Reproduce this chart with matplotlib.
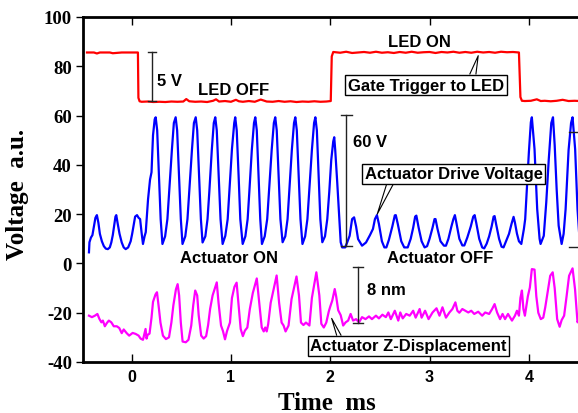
import matplotlib
matplotlib.use("Agg")
import matplotlib.pyplot as plt

plt.rcParams["axes.unicode_minus"] = False

# ---------------- data ----------------
x_ticks = [0, 1, 2, 3, 4]
y_ticks = [-40, -20, 0, 20, 40, 60, 80, 100]

# Gate trigger to LED (red)
red_t = [-0.45, -0.38, -0.35, -0.32, -0.22, -0.19, -0.10, 0.00, 0.063, 0.068, 0.08, 0.10,
         0.16, 0.22, 0.28, 0.34, 0.40, 0.46, 0.52, 0.55, 0.58, 0.64, 0.70, 0.76, 0.82,
         0.85, 0.88, 0.94, 1.00, 1.05, 1.08, 1.12, 1.18, 1.24, 1.30, 1.36, 1.42, 1.48,
         1.54, 1.60, 1.66, 1.72, 1.78, 1.84, 1.90, 1.96, 2.005, 2.015, 2.03, 2.10, 2.16,
         2.22, 2.28, 2.34, 2.40, 2.46, 2.52, 2.58, 2.64, 2.70, 2.76, 2.82, 2.88, 2.94,
         3.00, 3.06, 3.12, 3.18, 3.24, 3.30, 3.36, 3.42, 3.48, 3.54, 3.60, 3.66, 3.72,
         3.78, 3.84, 3.90, 3.915, 3.93, 3.96, 4.02, 4.08, 4.12, 4.16, 4.22, 4.28, 4.34,
         4.40, 4.46, 4.52]
red_v = [85.6, 85.6, 85.2, 85.6, 85.6, 85.3, 85.6, 85.6, 85.6, 67.2, 65.8, 65.6,
         65.7, 65.5, 65.6, 65.5, 65.7, 65.6, 65.7, 66.7, 65.8, 65.6, 65.7, 65.5, 66.0,
         66.6, 65.7, 65.9, 65.6, 66.4, 65.8, 65.6, 65.9, 65.6, 66.5, 65.7, 65.6, 65.9,
         65.6, 65.8, 65.5, 65.7, 65.6, 65.8, 65.6, 65.7, 65.9, 84.0, 85.8, 85.5, 85.9,
         85.4, 85.6, 85.8, 85.5, 85.9, 85.5, 85.7, 85.4, 85.8, 85.5, 85.9, 85.5, 85.7,
         85.8, 85.4, 85.8, 85.6, 85.9, 85.5, 85.8, 85.5, 85.9, 85.6, 85.8, 85.5, 85.9,
         85.7, 85.8, 85.6, 67.5, 66.0, 65.9, 66.0, 66.6, 65.9, 66.0, 65.8, 66.0, 66.4,
         65.9, 66.0, 65.9]

# Actuator drive voltage (blue)
blue_t = [-0.43, -0.425, -0.41, -0.395, -0.38, -0.365, -0.35, -0.335, -0.32, -0.30, -0.28,
          -0.26, -0.24, -0.22, -0.205, -0.19, -0.175, -0.163, -0.155, -0.14, -0.122, -0.10,
          -0.08, -0.06, -0.035, -0.01, 0.005, 0.02, 0.035, 0.054, 0.07, 0.085, 0.10, 0.114,
          0.13, 0.142, 0.165, 0.185, 0.20, 0.215, 0.232, 0.242,
          0.257, 0.275, 0.292, 0.31, 0.337, 0.36, 0.378, 0.405, 0.425, 0.443,
          0.458, 0.478, 0.495, 0.512, 0.54, 0.562, 0.58, 0.607, 0.627, 0.645,
          0.66, 0.68, 0.697, 0.714, 0.742, 0.764, 0.782, 0.807, 0.827, 0.842,
          0.857, 0.877, 0.895, 0.916, 0.943, 0.967, 0.983, 1.01, 1.033, 1.043,
          1.058, 1.077, 1.094, 1.118, 1.145, 1.168, 1.185, 1.21, 1.232, 1.245,
          1.26, 1.279, 1.295, 1.312, 1.34, 1.365, 1.383, 1.41, 1.432, 1.446,
          1.461, 1.48, 1.498, 1.52, 1.547, 1.57, 1.587, 1.613, 1.635, 1.648,
          1.663, 1.682, 1.70, 1.72, 1.747, 1.77, 1.788, 1.815, 1.837, 1.85,
          1.865, 1.884, 1.90, 1.92, 1.947, 1.97, 1.99, 2.01, 2.03, 2.04,
          2.05, 2.07, 2.09, 2.105, 2.12, 2.15, 2.17, 2.195, 2.22, 2.24, 2.26, 2.28, 2.32,
          2.36, 2.40, 2.43, 2.45, 2.47, 2.49, 2.52, 2.545, 2.565, 2.59, 2.625, 2.65, 2.66,
          2.68, 2.715, 2.745, 2.78, 2.81, 2.835, 2.855, 2.867, 2.89, 2.92, 2.95, 2.975,
          3.00, 3.03, 3.05, 3.06, 3.08, 3.11, 3.145, 3.165, 3.19, 3.22, 3.24, 3.255, 3.27,
          3.30, 3.33, 3.35, 3.38, 3.415, 3.44, 3.454, 3.47, 3.50, 3.53, 3.55, 3.575, 3.60,
          3.625, 3.645, 3.655, 3.67, 3.70, 3.725, 3.745, 3.77, 3.80, 3.825, 3.846, 3.86,
          3.88, 3.90, 3.924, 3.95, 3.963, 3.98, 4.00, 4.02, 4.03, 4.057, 4.084, 4.108,
          4.118, 4.15, 4.175, 4.20, 4.226, 4.243, 4.26, 4.28, 4.30, 4.33, 4.35, 4.37,
          4.40, 4.425, 4.44, 4.466, 4.49, 4.51]
blue_v = [4.5, 8.6, 10.5, 11.5, 15.0, 18.5, 19.6, 16.5, 12.0, 9.0, 7.0,
          6.0, 5.8, 6.5, 8.5, 11.5, 15.5, 19.0, 19.6, 16.0, 12.0, 8.5,
          6.5, 5.8, 6.5, 9.0, 12.0, 15.5, 19.0, 19.6, 18.5, 18.0, 12.5, 7.9,
          11.0, 12.7, 26.0, 34.0, 37.0, 52.0, 58.5, 59.3,
          54, 35, 18, 7.9, 11, 18, 29, 46, 57, 59.3,
          54, 35, 18, 7.9, 11, 18, 29, 46, 57, 59.3,
          54, 35, 18, 8.5, 11, 18, 29, 46, 57, 59.3,
          54, 35, 18, 7.9, 11.2, 18, 28.8, 46.4, 57, 59.3,
          54, 35.6, 18, 7.9, 11, 18, 29, 46, 57, 59.3,
          54, 35, 18, 7.9, 11, 18, 29, 46, 57, 59.3,
          54, 35, 18, 8.6, 11, 18, 29, 46, 57, 59.3,
          54, 35, 18, 7.9, 11, 18, 29, 46, 57, 59.3,
          54, 35, 18, 8.6, 11, 18, 29, 42, 49.5, 51.2,
          46, 33, 19, 8.6, 6.5, 6.5, 8.5, 11.2, 18, 18.7, 15, 9.9, 7.2,
          8.5, 11.5, 14, 18, 19.6, 16, 9, 6.5, 6.5, 9.5, 15, 19.5, 19.6,
          16, 9, 6.5, 6.5, 10, 14.5, 19, 19.4, 14.5, 9, 6.5, 7,
          10, 14.5, 18, 18, 14, 9, 7.2, 7.2, 10, 15, 18, 19.6, 16.5,
          10, 7.3, 7.3, 10.5, 15, 19, 19.6, 16.5, 10, 6.5, 6.1, 8, 11,
          15, 19, 19.2, 16, 10, 6.8, 6.5, 9, 12, 16, 18.9, 16.5,
          12.1, 9, 7.9, 14, 18, 30.2, 45, 57.3, 59.3, 46.4, 22, 10,
          7.9, 11.2, 24.7, 42, 57, 59.3, 48, 30, 15.3, 7.9, 12, 22,
          46, 57, 59.3, 46.4, 22, 10]

# Actuator Z-displacement (magenta)
mag_t = [-0.43, -0.40, -0.37, -0.345, -0.325, -0.305, -0.29, -0.27, -0.25, -0.23, -0.205,
         -0.18, -0.15, -0.125, -0.10, -0.08, -0.05, -0.025, 0.01, 0.04, 0.07, 0.09, 0.114,
         0.13, 0.14, 0.15, 0.16, 0.18, 0.20, 0.215, 0.24, 0.255, 0.275, 0.29, 0.315, 0.345,
         0.376, 0.40, 0.42, 0.446, 0.463, 0.478, 0.495, 0.513, 0.545, 0.572, 0.60, 0.62,
         0.64, 0.66, 0.675, 0.70, 0.725, 0.75, 0.77, 0.79, 0.815, 0.857, 0.875, 0.90, 0.92,
         0.94, 0.96, 0.99, 1.01, 1.035, 1.057, 1.08, 1.098, 1.12, 1.14, 1.165, 1.19, 1.22,
         1.26, 1.285, 1.31, 1.33, 1.345, 1.36, 1.375, 1.40, 1.46, 1.485, 1.51, 1.53, 1.55,
         1.58, 1.61, 1.66, 1.685, 1.705, 1.73, 1.755, 1.79, 1.815, 1.86, 1.89, 1.91, 1.935,
         1.96, 1.985, 2.00, 2.02, 2.045, 2.06, 2.08, 2.105, 2.13, 2.155, 2.18, 2.205, 2.23,
         2.26, 2.29, 2.32, 2.355, 2.39, 2.42, 2.46, 2.49, 2.525, 2.56, 2.585, 2.61, 2.65,
         2.685, 2.705, 2.73, 2.765, 2.80, 2.835, 2.86, 2.90, 2.92, 2.955, 2.99, 3.03, 3.07,
         3.10, 3.13, 3.165, 3.20, 3.23, 3.26, 3.28, 3.30, 3.33, 3.36, 3.39, 3.42, 3.45,
         3.49, 3.53, 3.56, 3.60, 3.63, 3.655, 3.68, 3.71, 3.735, 3.76, 3.79, 3.83, 3.86,
         3.88, 3.90, 3.915, 3.93, 3.945, 3.96, 3.99, 4.01, 4.03, 4.057, 4.075, 4.095, 4.12,
         4.145, 4.165, 4.19, 4.215, 4.24, 4.26, 4.285, 4.31, 4.33, 4.355, 4.38, 4.405,
         4.44, 4.465, 4.49, 4.51]
mag_v = [-21.2, -21.8, -21.2, -20.5, -22.5, -23.9, -23.2, -25.5, -24.2, -23.2, -23.9,
         -25.5, -25.5, -26.2, -28.3, -26.8, -28.3, -29.3, -28.2, -28.6, -29.3, -30.5, -31.0,
         -28.2, -26.6, -30.5, -29.0, -28.5, -22.0, -15.6, -12.6, -11.7, -18.5, -24.0, -29.3, -30.7,
         -30.0, -24.0, -17.0, -10.5, -8.4, -13.0, -24.0, -31.7, -32.0, -31.0, -25.2, -17.0,
         -11.0, -13.0, -21.0, -29.3, -30.5, -29.5, -25.0, -18.5, -13.0, -7.7, -16.0, -25.2, -27.5,
         -30.8, -27.5, -24.0, -14.0, -9.5, -7.8, -18.5, -26.6, -29.5, -27.3, -26.0, -18.5, -12.0,
         -6.1, -16.0, -26.0, -27.6, -26.0, -27.6, -24.6, -16.0, -4.9, -16.0, -24.0, -25.2, -27.6,
         -25.2, -14.5, -5.3, -13.0, -24.0, -25.0, -24.0, -25.2, -14.0, -3.6, -13.0, -24.5, -26.0,
         -24.0, -19.5, -17.5, -15.1, -10.4, -13.5, -19.0, -21.0, -25.2, -23.9, -23.2, -20.5, -23.2,
         -22.6, -23.9, -21.8, -22.6, -21.5, -22.6, -21.2, -22.3, -20.8, -21.8, -19.9, -22.6, -19.2,
         -23.2, -19.9, -22.3, -20.5, -21.2, -19.2, -22.0, -18.5, -22.0, -19.2, -22.6, -19.9, -18.2,
         -21.2, -17.8, -22.0, -19.9, -18.5, -15.8, -19.2, -20.0, -18.5, -19.2, -19.9, -19.2, -20.5,
         -19.6, -21.2, -19.9, -20.5, -18.5, -16.5, -19.9, -22.6, -20.5, -22.6, -20.5, -23.2, -21.2,
         -19.2, -21.2, -14.0, -11.0, -18.5, -21.2, -13.3, -9.8, -2.3, -2.5, -13.3, -20.0, -22.6,
         -22.0, -17.8, -11.5, -5.0, -3.6, -10.0, -22.6, -25.7, -23.0, -21.2, -13.3, -5.0,
         -2.0, -10.5, -23.9, -22.0]

# ---------------- figure ----------------
W, H = 578, 414
fig = plt.figure(figsize=(W / 100, H / 100), dpi=100)
ax = fig.add_axes([83 / W, 51 / H, (580.5 - 83) / W, 345 / H])
ax.set_xlim(-0.49, 4.52)
ax.set_ylim(-40, 100)

ax.plot(red_t, red_v, color="#ff0000", lw=1.6, zorder=3)
ax.plot(blue_t, blue_v, color="#0000ff", lw=1.6, zorder=3)
ax.plot(mag_t, mag_v, color="#ff00ff", lw=1.6, zorder=3)

for s in ["left", "bottom", "top"]:
    ax.spines[s].set_linewidth(2.0)
ax.spines["right"].set_visible(False)

ax.set_xticks(x_ticks)
ax.set_yticks(y_ticks)
ax.tick_params(axis="x", direction="in", top=True, bottom=True, length=6, width=1.0,
               pad=5)
ax.tick_params(axis="y", direction="out", left=True, right=False, length=5, width=1.0,
               pad=3)
for lab in ax.get_yticklabels():
    lab.set_fontfamily("Liberation Serif")
    lab.set_fontweight("bold")
    lab.set_fontsize(13.5)
for lab in ax.get_xticklabels():
    lab.set_fontfamily("Liberation Sans")
    lab.set_fontweight("bold")
    lab.set_fontsize(11.5)

fig.text(18 / W, 1 - 194 / H, "Voltage  a.u.", rotation=90, ha="center", va="center",
         fontfamily="Liberation Serif", fontweight="bold", fontsize=18)
fig.text(327 / W, 4 / H, "Time  ms", ha="center", va="baseline",
         fontfamily="Liberation Serif", fontweight="bold", fontsize=18)

tkw = dict(fontfamily="Liberation Sans", fontweight="bold", fontsize=12, color="black",
           zorder=6)

ax.text(1.025, 70.4, "LED OFF", ha="center", va="center", **tkw)
ax.text(2.898, 89.9, "LED ON", ha="center", va="center", **tkw)
ax.text(0.98, 2.6, "Actuator ON", ha="center", va="center", **tkw)
ax.text(3.11, 2.6, "Actuator OFF", ha="center", va="center", **tkw)

# scale bars
def scale_bar(x, y0, y1, hw):
    ax.plot([x, x], [y0, y1], color="#222222", lw=1.0, zorder=4, clip_on=True)
    ax.plot([x - hw, x + hw], [y0, y0], color="#222222", lw=1.0, zorder=4)
    ax.plot([x - hw, x + hw], [y1, y1], color="#222222", lw=1.0, zorder=4)

scale_bar(0.2014, 85.7, 66.0, 0.04)
ax.text(0.255, 74.4, "5 V", ha="left", va="center", **tkw)
scale_bar(2.159, 60.2, 7.2, 0.055)
ax.text(2.229, 49.5, "60 V", ha="left", va="center", **tkw)
scale_bar(2.276, -1.3, -24.2, 0.05)
ax.text(2.37, -10.7, "8 nm", ha="left", va="center", **tkw)
scale_bar(4.55, 53.3, 6.7, 0.145)

# call-out boxes
bkw = dict(boxstyle="square,pad=0.15", facecolor="white", edgecolor="black", lw=1.0)

def callout(tx, ty, text, xa, xb, yb, xp, yp):
    ax.plot([xa, xp, xb], [yb, yp, yb], color="black", lw=0.8, zorder=5)
    ax.text(tx, ty, text, ha="center", va="center", bbox=bkw, **tkw)

callout(2.964, 72.4, "Gate Trigger to LED", 3.406, 3.467, 76.9, 3.49, 84.3)
callout(3.244, 36.3, "Actuator Drive Voltage", 2.568, 2.635, 32.2, 2.473, 20.0)
callout(2.786, -33.5, "Actuator Z-Displacement", 2.064, 2.108, -29.1, 2.014, -22.3)

fig.savefig("out.png", dpi=100)
